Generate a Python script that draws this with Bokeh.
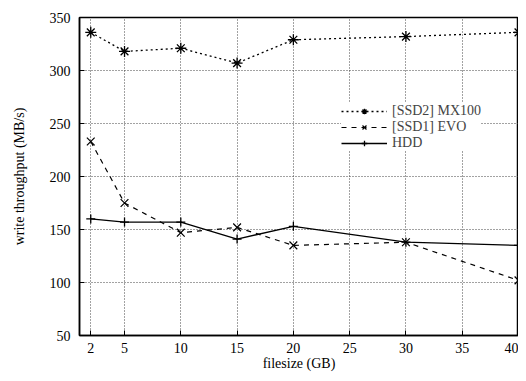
from bokeh.plotting import figure
from bokeh.models import Range1d, FixedTicker, Legend, LegendItem
from bokeh.embed import file_html
from bokeh.resources import INLINE

filesize = [2, 5, 10, 15, 20, 30, 40]
mx100 = [336, 318, 321, 307, 329, 332, 336]
evo = [233, 175, 147, 152, 135, 138, 102]
hdd = [160, 157, 157, 141, 153, 138, 135]
x_ticks = [2, 5, 10, 15, 20, 25, 30, 35, 40]
y_ticks = [50, 100, 150, 200, 250, 300, 350]

FONT = "Liberation Serif"

p = figure(width=518, height=373, output_backend="svg", toolbar_location=None,
           x_range=Range1d(1, 40), y_range=Range1d(50, 350),
           min_border_left=79, min_border_right=0, min_border_top=17, min_border_bottom=37)

p.outline_line_color = "black"
p.outline_line_width = 1.5

for ax in (p.xaxis[0], p.yaxis[0]):
    ax.axis_line_width = 1.5
    ax.major_tick_in = 5
    ax.major_tick_out = 0
    ax.minor_tick_in = 0
    ax.minor_tick_out = 0
    ax.major_label_text_font = FONT
    ax.major_label_text_font_size = "14px"
    ax.major_label_text_color = "black"
    ax.axis_label_text_font = FONT
    ax.axis_label_text_font_size = "14px"
    ax.axis_label_text_font_style = "normal"
    ax.axis_label_text_color = "black"

p.xaxis.ticker = FixedTicker(ticks=x_ticks)
p.yaxis.ticker = FixedTicker(ticks=y_ticks)
p.xaxis.axis_label = "filesize (GB)"
p.yaxis.axis_label = "write throughput (MB/s)"
p.xaxis.major_label_standoff = 7
p.yaxis.major_label_standoff = 9
p.xaxis.axis_label_standoff = 0
p.yaxis.axis_label_standoff = 20

p.grid.grid_line_color = "#444444"
p.grid.grid_line_dash = "1 2"
p.grid.grid_line_width = 1

l1 = p.line(filesize, mx100, line_color="black", line_width=1.3, line_dash="2 3")
s1 = p.scatter(filesize, mx100, marker="asterisk", size=11, line_color="black", line_width=1.3)
l2 = p.line(filesize, evo, line_color="black", line_width=1.2, line_dash="5 5")
s2 = p.scatter(filesize, evo, marker="x", size=11, line_color="black", line_width=1.2)
l3 = p.line(filesize, hdd, line_color="black", line_width=1.3)
s3 = p.scatter(filesize, hdd, marker="cross", size=9, line_color="black", line_width=1.3)

legend = Legend(items=[
    LegendItem(label="[SSD2] MX100", renderers=[l1, s1]),
    LegendItem(label="[SSD1] EVO", renderers=[l2, s2]),
    LegendItem(label="HDD", renderers=[l3, s3]),
], location=(262, 184))
legend.border_line_color = None
legend.background_fill_color = "white"
legend.background_fill_alpha = 1
legend.label_text_font = FONT
legend.label_text_font_size = "14px"
legend.glyph_width = 46
legend.spacing = 0
legend.label_height = 14
legend.glyph_height = 14
legend.padding = 2
legend.margin = 0
p.add_layout(legend, "center")

open("out.html", "w").write(file_html(p, INLINE))
